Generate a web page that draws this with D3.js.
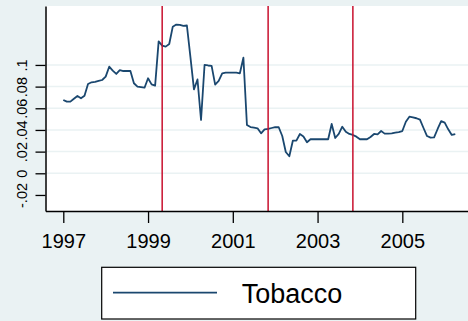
<!DOCTYPE html>
<html>
<head>
<meta charset="utf-8">
<script src="https://cdn.jsdelivr.net/npm/d3@7"></script>
<style>
  html, body { margin: 0; padding: 0; background: #eaf2f3; }
  svg { display: block; font-family: "Liberation Sans", Arial, Helvetica, sans-serif; }
</style>
</head>
<body>
<svg id="chart" width="468" height="321"></svg>
<script>
// Monthly tobacco series, starting January 1997
const startYear = 1997;
const tobacco = [
  0.0677, 0.0661, 0.0661, 0.0688, 0.0713, 0.0692, 0.0716, 0.0824, 0.0840, 0.0843, 0.0852, 0.0861,
  0.0892, 0.0984, 0.0947, 0.0917, 0.0953, 0.0944, 0.0944, 0.0944, 0.0831, 0.0799, 0.0795, 0.0790,
  0.0877, 0.0821, 0.0809, 0.1217, 0.1178, 0.1169, 0.1193, 0.1353, 0.1373, 0.1369, 0.1360, 0.1364,
  0.1073, 0.0775, 0.0866, 0.0492, 0.1000, 0.0995, 0.0992, 0.0818, 0.0852, 0.0923, 0.0930, 0.0929,
  0.0929, 0.0929, 0.0923, 0.1067, 0.0446, 0.0427, 0.0421, 0.0415, 0.0369, 0.0406, 0.0409, 0.0418,
  0.0427, 0.0425, 0.0344, 0.0197, 0.0157, 0.0301, 0.0301, 0.0363, 0.0340, 0.0286, 0.0314, 0.0314,
  0.0314, 0.0314, 0.0314, 0.0314, 0.0455, 0.0326, 0.0363, 0.0430, 0.0384, 0.0363, 0.0354, 0.0338,
  0.0314, 0.0314, 0.0314, 0.0335, 0.0363, 0.0360, 0.0390, 0.0366, 0.0367, 0.0369, 0.0375, 0.0381,
  0.0390, 0.0476, 0.0522, 0.0515, 0.0508, 0.0495, 0.0418, 0.0344, 0.0329, 0.0332, 0.0409, 0.0481,
  0.0467, 0.0406, 0.0354, 0.0361
];
// Reference dates marked with vertical lines (decimal years: May 1999, Nov 2001, Nov 2003)
const eventYears = [1999 + 4 / 12, 2001 + 10 / 12, 2003 + 10 / 12];
const xTickValues = [1997, 1999, 2001, 2003, 2005];
const yTickValues = [-0.02, 0, 0.02, 0.04, 0.06, 0.08, 0.1];
const yTickLabels = ["-.02", "0", ".02", ".04", ".06", ".08", ".1"];
const gridValues = [0, 0.02, 0.04, 0.06, 0.08, 0.1];
const seriesName = "Tobacco";

const data = tobacco.map((v, i) => ({ t: startYear + i / 12, v }));

const svg = d3.select("#chart");
const W = 468, H = 321;
const plot = { left: 45.5, right: 468, top: 6, bottom: 211 };

const x = d3.scaleLinear().domain([1996.58, 2006.55]).range([plot.left, plot.right]);
const y = d3.scaleLinear().domain([-0.0348, 0.1544]).range([plot.bottom, plot.top]);

svg.append("rect").attr("width", W).attr("height", H).attr("fill", "#eaf2f3");

// plot region
svg.append("rect")
  .attr("x", plot.left).attr("y", plot.top)
  .attr("width", plot.right - plot.left).attr("height", plot.bottom - plot.top)
  .attr("fill", "#ffffff");

// horizontal grid
svg.append("g").selectAll("line").data(gridValues).join("line")
  .attr("x1", plot.left).attr("x2", plot.right)
  .attr("y1", d => y(d)).attr("y2", d => y(d))
  .attr("stroke", "#eaf2f3").attr("stroke-width", 1.5);

// series line
const line = d3.line().x(d => x(d.t)).y(d => y(d.v));
svg.append("path").datum(data)
  .attr("d", line)
  .attr("fill", "none")
  .attr("stroke", "#1a476f")
  .attr("stroke-width", 1.8)
  .attr("stroke-linejoin", "round");

// event lines
svg.append("g").selectAll("line").data(eventYears).join("line")
  .attr("x1", d => x(d)).attr("x2", d => x(d))
  .attr("y1", plot.top).attr("y2", plot.bottom)
  .attr("stroke", "#c8102e").attr("stroke-width", 1.5);

// y axis
const yAxis = svg.append("g")
  .attr("transform", `translate(${plot.left},0)`)
  .call(d3.axisLeft(y).tickValues(yTickValues)
    .tickFormat((d, i) => yTickLabels[i]).tickSize(10).tickSizeOuter(0));
yAxis.select(".domain").attr("stroke", "#000").attr("stroke-width", 1.5);
yAxis.selectAll(".tick line").attr("stroke", "#000").attr("stroke-width", 1.3);
yAxis.selectAll(".tick text")
  .attr("transform", "rotate(-90)")
  .attr("x", 0).attr("y", -18.8).attr("dy", 0)
  .attr("text-anchor", "middle")
  .attr("fill", "#000")
  .style("font-size", "14.5px")
  .style("font-family", "'Liberation Sans', Arial, sans-serif");

// x axis
const xAxis = svg.append("g")
  .attr("transform", `translate(0,${plot.bottom})`)
  .call(d3.axisBottom(x).tickValues(xTickValues)
    .tickFormat(d3.format("d")).tickSize(12).tickSizeOuter(0));
xAxis.select(".domain").attr("stroke", "#000").attr("stroke-width", 1.5);
xAxis.selectAll(".tick line").attr("stroke", "#000").attr("stroke-width", 1.3);
xAxis.selectAll(".tick text")
  .attr("y", 37.3).attr("dy", 0)
  .attr("fill", "#000")
  .style("font-size", "20px")
  .style("font-family", "'Liberation Sans', Arial, sans-serif");

// legend
const legend = svg.append("g");
legend.append("rect")
  .attr("x", 101.7).attr("y", 267.3).attr("width", 314).attr("height", 51.7)
  .attr("fill", "#fff").attr("stroke", "#000").attr("stroke-width", 1.2);
legend.append("line")
  .attr("x1", 113).attr("x2", 217).attr("y1", 292.7).attr("y2", 292.7)
  .attr("stroke", "#1a476f").attr("stroke-width", 1.8);
legend.append("text")
  .attr("x", 241.7).attr("y", 303.3)
  .attr("fill", "#000")
  .style("font-size", "27px")
  .text(seriesName);
</script>
</body>
</html>
